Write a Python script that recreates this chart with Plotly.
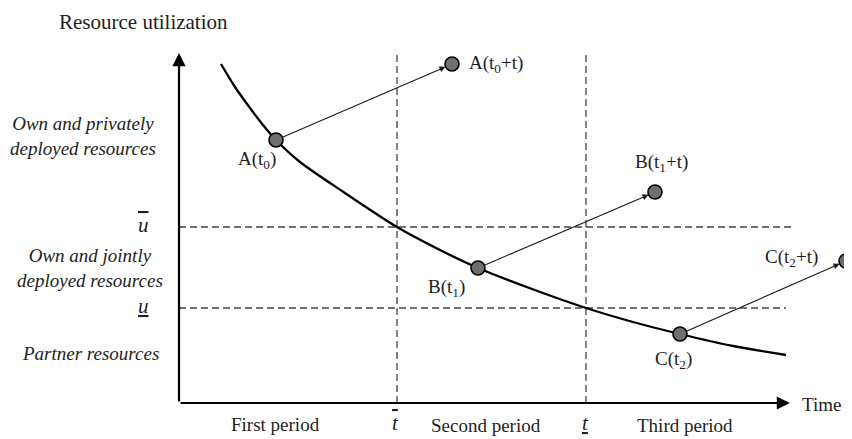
import plotly.graph_objects as go

# ---- data (abstract units: time and resource utilization) ----
curve_t = [4.2, 5.6, 7.1, 8.4, 9.7, 12.1, 16.3, 21.8, 25.9, 29.9, 35.3, 40.7, 45.4, 50.1, 55.4, 60.7]
curve_u = [33.9, 31.6, 29.5, 27.8, 26.3, 24.1, 21.2, 17.6, 15.4, 13.5, 11.4, 9.5, 8.1, 6.9, 5.7, 4.8]

point_names = ["A", "B", "C"]
point_t = [9.7, 29.9, 50.1]
point_u = [26.3, 13.5, 6.9]
future_t = [27.3, 47.6, 66.7]
future_u = [33.9, 21.1, 14.2]

t_bar, t_under = 21.8, 40.7
u_bar, u_under = 17.6, 9.5
axis_t_max, axis_u_max = 61.1, 35.0
vline_top = 35.1
hline_ends = [61.2, 60.7]

period_labels = ["First period", "Second period", "Third period"]
region_labels = ["Own and privately<br>deployed resources",
                 "Own and jointly<br>deployed resources",
                 "Partner resources"]

FONT = "Liberation Serif"
TXT = "#1e1e1e"
# page body has an 8px margin; the figure fills the rest of the 852x439 window
W, H = 844, 431
x0px, y0px, scale = 171, 395, 10.0

fig = go.Figure()

# dashed threshold lines
for tv in (t_bar, t_under):
    fig.add_trace(go.Scatter(x=[tv, tv], y=[0, vline_top], mode="lines",
                             line=dict(color="#444", width=1.3, dash="7px,4px"),
                             hoverinfo="skip", showlegend=False))
for uv, xe in zip((u_bar, u_under), hline_ends):
    fig.add_trace(go.Scatter(x=[0, xe], y=[uv, uv], mode="lines",
                             line=dict(color="#444", width=1.3, dash="7px,4px"),
                             hoverinfo="skip", showlegend=False))

# curve
fig.add_trace(go.Scatter(x=curve_t, y=curve_u, mode="lines",
                         line=dict(color="black", width=2.3, shape="spline", smoothing=0.8),
                         hoverinfo="skip", showlegend=False))

annotations = []
# arrows from current to future positions
for i in range(3):
    annotations.append(dict(x=future_t[i], y=future_u[i], ax=point_t[i], ay=point_u[i],
                            xref="x", yref="y", axref="x", ayref="y", text="",
                            showarrow=True, arrowhead=2, arrowsize=1.1, arrowwidth=1.1,
                            arrowcolor="#1a1a1a", standoff=7, startstandoff=6))

# points
fig.add_trace(go.Scatter(x=point_t + future_t, y=point_u + future_u, mode="markers",
                         marker=dict(size=14, color="#6f6f6f", line=dict(color="black", width=1.6)),
                         cliponaxis=False, hoverinfo="skip", showlegend=False))

# axes arrows
annotations.append(dict(x=axis_t_max, y=0, ax=0, ay=0, xref="x", yref="y", axref="x", ayref="y",
                        text="", showarrow=True, arrowhead=2, arrowsize=1.2, arrowwidth=2.2,
                        arrowcolor="black"))
annotations.append(dict(x=0, y=axis_u_max, ax=0, ay=0, xref="x", yref="y", axref="x", ayref="y",
                        text="", showarrow=True, arrowhead=2, arrowsize=1.2, arrowwidth=2.2,
                        arrowcolor="black"))

def txt(x, y, s, size=19, xanchor="center", italic=False, xshift=0, yshift=0):
    if italic:
        s = "<i>" + s + "</i>"
    annotations.append(dict(x=x, y=y, xref="x", yref="y", text=s, showarrow=False,
                            xanchor=xanchor, yanchor="middle", xshift=xshift, yshift=yshift,
                            font=dict(family=FONT, size=size, color=TXT)))

# point labels
subs = ["0", "1", "2"]
cur_off = [(-19, -20), (-32, -20), (-7, -26)]
fut_off = [(15, 0, "left"), (6, 29, "center"), (-55, 3, "center")]
for i in range(3):
    n, s = point_names[i], subs[i]
    txt(point_t[i], point_u[i], f"{n}(t<sub>{s}</sub>)", xshift=cur_off[i][0], yshift=cur_off[i][1])
    txt(future_t[i], future_u[i], f"{n}(t<sub>{s}</sub>+t)", xanchor=fut_off[i][2],
        xshift=fut_off[i][0], yshift=fut_off[i][1])

# axis titles
txt(-3.6, 38.1, "Resource utilization", size=21)
txt(62.1, 0, "Time", xanchor="left", yshift=-1, size=19)

OVER = "<span style='text-decoration:overline'>{}</span>"
UNDER = "<span style='text-decoration:underline'>{}</span>"

# region labels
txt(-9.6, 26.7, region_labels[0], italic=True)
txt(-8.9, (u_bar + u_under) / 2, region_labels[1], italic=True)
txt(-8.9, 5.0, region_labels[2], italic=True)
txt(-3.6, u_bar, OVER.format("u"), italic=True, size=21, yshift=2)
txt(-3.6, u_under, UNDER.format("u"), italic=True, size=21, yshift=2)

# period labels
txt(9.6, -2.1, period_labels[0])
txt(30.7, -2.2, period_labels[1])
txt(50.6, -2.2, period_labels[2])
txt(t_bar, -2.0, OVER.format("t"), italic=True, size=21, xshift=-2)
txt(t_under, -2.0, UNDER.format("t"), italic=True, size=21, xshift=-1)

fig.update_layout(
    width=W, height=H, margin=dict(l=0, r=0, t=0, b=0),
    paper_bgcolor="white", plot_bgcolor="white",
    xaxis=dict(range=[-x0px / scale, (W - x0px) / scale], visible=False, fixedrange=True),
    yaxis=dict(range=[(y0px - H) / scale, y0px / scale], visible=False, fixedrange=True),
    annotations=annotations, showlegend=False,
)

fig.write_html("out.html")
